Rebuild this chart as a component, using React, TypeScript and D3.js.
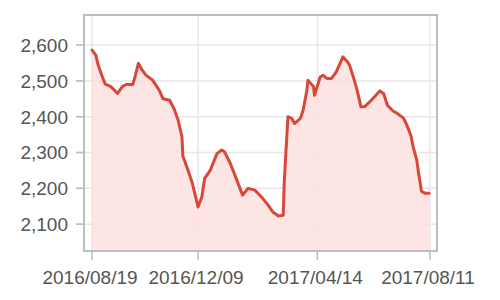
import React from "react";
import * as d3 from "d3";

const dates: string[] = [
  "2016-08-19","2016-08-23","2016-08-26","2016-08-30","2016-09-02","2016-09-08","2016-09-15","2016-09-20",
  "2016-09-24","2016-10-01","2016-10-03","2016-10-07","2016-10-11","2016-10-15","2016-10-22","2016-10-29",
  "2016-11-02","2016-11-09","2016-11-14","2016-11-18","2016-11-22","2016-11-23","2016-11-29","2016-12-03",
  "2016-12-09","2016-12-13","2016-12-16","2016-12-22","2016-12-29","2017-01-03","2017-01-06","2017-01-12",
  "2017-01-19","2017-01-25","2017-01-31","2017-02-07","2017-02-14","2017-02-21","2017-02-26","2017-03-04",
  "2017-03-09","2017-03-10","2017-03-12","2017-03-14","2017-03-18","2017-03-21","2017-03-27","2017-03-30",
  "2017-04-03","2017-04-04","2017-04-10","2017-04-11","2017-04-17","2017-04-20","2017-04-24","2017-04-29",
  "2017-05-04","2017-05-08","2017-05-11","2017-05-16","2017-05-18","2017-05-22","2017-05-26","2017-05-30",
  "2017-06-03","2017-06-10","2017-06-19","2017-06-23","2017-06-27","2017-07-03","2017-07-08","2017-07-14",
  "2017-07-17","2017-07-22","2017-07-24","2017-07-28","2017-07-30","2017-08-02","2017-08-06","2017-08-10",
];

const values: number[] = [
  2586,2572,2540,2511,2491,2484,2465,2484,
  2490,2490,2507,2549,2530,2516,2502,2474,
  2450,2446,2420,2390,2344,2290,2246,2214,
  2148,2176,2228,2251,2297,2307,2302,2270,
  2223,2181,2200,2195,2176,2153,2134,2123,
  2125,2214,2310,2400,2395,2381,2395,2418,
  2474,2502,2484,2460,2511,2516,2507,2507,
  2525,2549,2567,2553,2544,2511,2474,2428,
  2428,2446,2472,2465,2432,2416,2408,2396,
  2380,2346,2318,2279,2242,2192,2186,2186,
];

const xTickLabels: string[] = ["2016/08/19", "2016/12/09", "2017/04/14", "2017/08/11"];
const yTicks: number[] = [2100, 2200, 2300, 2400, 2500, 2600];

const parse = d3.timeParse("%Y-%m-%d");
const parseTick = d3.timeParse("%Y/%m/%d");

export default function App() {
  const W = 500, H = 300;
  const left = 84, right = 437, top = 15, bottom = 251;

  const x = d3.scaleTime()
    .domain([parseTick(xTickLabels[0])!, parseTick(xTickLabels[3])!])
    .range([92, 430]);
  const y = d3.scaleLinear().domain([2025, 2684]).range([bottom, top]);

  const data = dates.map((d, i) => ({ date: parse(d)!, v: values[i] }));

  const line = d3.line<{ date: Date; v: number }>()
    .x((d) => x(d.date))
    .y((d) => y(d.v));
  const area = d3.area<{ date: Date; v: number }>()
    .x((d) => x(d.date))
    .y0(bottom)
    .y1((d) => y(d.v));

  const font = "'Liberation Sans', Arial, sans-serif";
  const textColor = "#555";

  return (
    <div style={{ position: "absolute", left: 0, top: 0 }}>
      <svg width={W} height={H} style={{ display: "block", background: "#fff" }}>
        {yTicks.map((t) => (
          <g key={t}>
            <line x1={76} x2={right} y1={y(t)} y2={y(t)} stroke="#e8e6e8" strokeWidth={1.5} />
            <line x1={76} x2={left} y1={y(t)} y2={y(t)} stroke="#bbb" strokeWidth={1.5} />
            <text x={68} y={y(t)} dy="0.36em" textAnchor="end" fontSize={19} fontFamily={font} fill={textColor}>
              {d3.format(",")(t)}
            </text>
          </g>
        ))}
        {xTickLabels.map((t) => {
          const xx = x(parseTick(t)!);
          return (
            <g key={t}>
              <line x1={xx} x2={xx} y1={top} y2={bottom} stroke="#e8e6e8" strokeWidth={1.5} />
              <line x1={xx} x2={xx} y1={bottom} y2={260} stroke="#bbb" strokeWidth={1.5} />
              <text x={xx - 2} y={284} textAnchor="middle" fontSize={19} fontFamily={font} fill={textColor}>
                {t}
              </text>
            </g>
          );
        })}
        <path d={area(data)!} fill="#fde0de" fillOpacity={0.85} />
        <path d={line(data)!} fill="none" stroke="#d8483a" strokeWidth={3} strokeLinejoin="round" strokeLinecap="round" />
        <rect x={left} y={top} width={right - left} height={bottom - top} fill="none" stroke="#bdbdbd" strokeWidth={2} />
      </svg>
    </div>
  );
}
